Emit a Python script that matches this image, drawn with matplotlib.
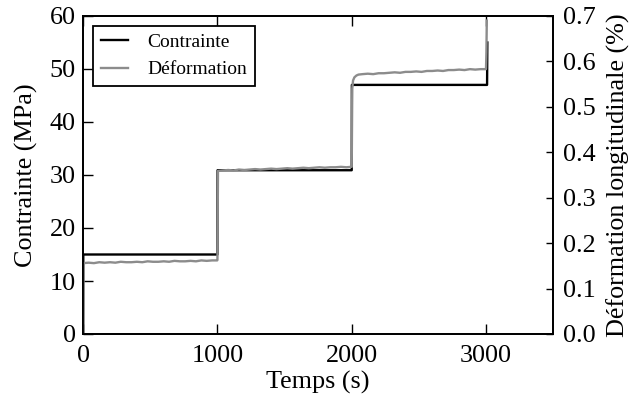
import matplotlib
matplotlib.use("Agg")
import matplotlib.pyplot as plt

# Contrainte (MPa) en fonction du temps (s)
t_contrainte = [0, 1, 1000, 1001, 2000, 2001, 3008, 3010]
contrainte = [0, 15, 15, 30.9, 30.9, 47, 47, 55]

# Deformation longitudinale (%) en fonction du temps (s)
t_deform = [0, 3, 40, 80, 120, 160, 200, 240, 280, 320, 360, 400, 440, 480,
            520, 560, 600, 640, 680, 720, 760, 800, 840, 880, 920, 960, 998,
            1000, 1004, 1040, 1080, 1120, 1160, 1200, 1240, 1280, 1320, 1360,
            1400, 1440, 1480, 1520, 1560, 1600, 1640, 1680, 1720, 1760, 1800,
            1840, 1880, 1920, 1960, 1998,
            2000, 2004, 2010, 2020, 2035, 2050, 2080, 2120, 2160, 2200, 2240,
            2280, 2320, 2360, 2400, 2440, 2480, 2520, 2560, 2600, 2640, 2680,
            2720, 2760, 2800, 2840, 2880, 2920, 2960, 2998,
            3000, 3003, 3006]
deform = [0.000, 0.156, 0.157, 0.156, 0.158, 0.157, 0.158, 0.157, 0.159, 0.158,
          0.158, 0.159, 0.158, 0.160, 0.159, 0.159, 0.160, 0.159, 0.161, 0.160,
          0.160, 0.161, 0.160, 0.162, 0.161, 0.162, 0.162,
          0.163, 0.359, 0.360, 0.361, 0.360, 0.362, 0.361, 0.362, 0.363, 0.362,
          0.363, 0.364, 0.363, 0.364, 0.365, 0.364, 0.365, 0.366, 0.365, 0.366,
          0.367, 0.366, 0.367, 0.367, 0.368, 0.367, 0.368,
          0.368, 0.540, 0.558, 0.565, 0.569, 0.571, 0.572, 0.573, 0.572, 0.574,
          0.574, 0.575, 0.576, 0.575, 0.577, 0.577, 0.578, 0.577, 0.579, 0.579,
          0.580, 0.579, 0.581, 0.581, 0.582, 0.581, 0.583, 0.582, 0.583, 0.583,
          0.583, 0.620, 0.690]

plt.rcParams['font.family'] = ['Liberation Serif', 'DejaVu Serif']
plt.rcParams['font.size'] = 18.8
plt.rcParams['axes.linewidth'] = 1.3

fig = plt.figure(figsize=(6.3, 4.0), dpi=100)
ax1 = fig.add_axes([0.132, 0.165, 0.746, 0.795])
l1, = ax1.plot(t_contrainte, contrainte, color='black', lw=1.7, label='Contrainte')
ax1.set_xlim(0, 3500)
ax1.set_ylim(0, 60)
ax1.set_xticks([0, 1000, 2000, 3000])
ax1.set_yticks([0, 10, 20, 30, 40, 50, 60])
ax1.set_xlabel('Temps (s)', labelpad=3)
ax1.set_ylabel('Contrainte (MPa)', labelpad=8)
ax1.tick_params(direction='in', length=7, width=1, top=True, right=False)
ax1.tick_params(axis='x', pad=8)
ax1.tick_params(axis='y', pad=5.5)

ax2 = ax1.twinx()
l2, = ax2.plot(t_deform, deform, color='#8c8c8c', lw=1.7, label='Déformation')
ax2.set_ylim(0, 0.7)
ax2.set_yticks([0.0, 0.1, 0.2, 0.3, 0.4, 0.5, 0.6, 0.7])
ax2.set_yticklabels(['%.1f' % v for v in ax2.get_yticks()])
ax2.set_ylabel('Déformation longitudinale (%)', labelpad=8)
ax2.tick_params(direction='in', length=5, width=1, pad=7)

leg = ax2.legend([l1, l2], ['Contrainte', 'Déformation'], loc='upper left',
                 fontsize=14, fancybox=False, edgecolor='black',
                 framealpha=1, handlelength=1.4, handletextpad=1.0)
leg.get_frame().set_linewidth(1.3)

fig.savefig('out.png', dpi=100)
